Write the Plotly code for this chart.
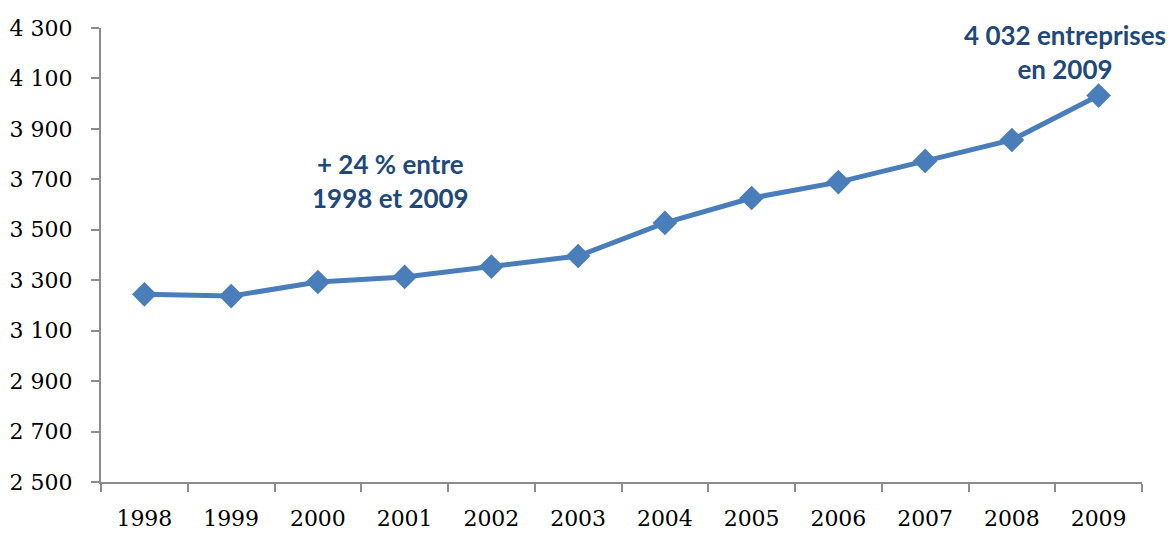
import plotly.graph_objects as go

# Number of companies per year
years = ["1998", "1999", "2000", "2001", "2002", "2003",
         "2004", "2005", "2006", "2007", "2008", "2009"]
companies = [3244, 3237, 3293, 3313, 3354, 3396,
             3527, 3626, 3689, 3773, 3856, 4032]

y_ticks = [2500, 2700, 2900, 3100, 3300, 3500, 3700, 3900, 4100, 4300]
y_tick_labels = ["2 500", "2 700", "2 900", "3 100", "3 300",
                 "3 500", "3 700", "3 900", "4 100", "4 300"]

line_color = "#4A7EBB"
note_color = "#1F497D"
axis_color = "#8C8C8C"

fig = go.Figure()
fig.add_trace(go.Scatter(
    x=years,
    y=companies,
    mode="lines+markers",
    line=dict(color=line_color, width=5),
    marker=dict(symbol="diamond", size=19, color=line_color),
    showlegend=False,
    hoverinfo="x+y",
))

note_font = dict(family="Lato, 'Open Sans', sans-serif", size=26,
                 color=note_color, weight="bold")

fig.add_annotation(
    x=0.278, y=0.663, xref="paper", yref="paper",
    xanchor="center", yanchor="middle",
    text="+ 24 % entre<br>1998 et 2009",
    showarrow=False, align="center",
    font=note_font,
)
fig.add_annotation(
    x=0.926, y=0.947, xref="paper", yref="paper",
    xanchor="center", yanchor="middle",
    text="4 032 entreprises<br>en 2009",
    showarrow=False, align="center",
    font=note_font,
)

tick_font = dict(family="'DejaVu Serif', 'Liberation Serif', serif", size=22, color="#000000")

fig.update_xaxes(
    type="category",
    range=[-0.5, len(years) - 0.5],
    tickson="boundaries",
    ticks="outside", ticklen=8, tickcolor=axis_color, tickwidth=2,
    showline=True, linecolor=axis_color, linewidth=2,
    showgrid=False, zeroline=False,
    tickfont=tick_font,
    ticklabelstandoff=16,
    automargin=False,
)
fig.update_yaxes(
    range=[2500, 4300],
    tickvals=y_ticks, ticktext=y_tick_labels,
    ticks="outside", ticklen=8, tickcolor=axis_color, tickwidth=2,
    showline=True, linecolor=axis_color, linewidth=2,
    showgrid=False, zeroline=False,
    tickfont=tick_font,
    ticklabelstandoff=14,
    automargin=False,
)

fig.update_layout(
    width=1174, height=533,
    margin=dict(l=101, r=32, t=28, b=51),
    plot_bgcolor="white", paper_bgcolor="white",
)

fig.write_html("out.html")
